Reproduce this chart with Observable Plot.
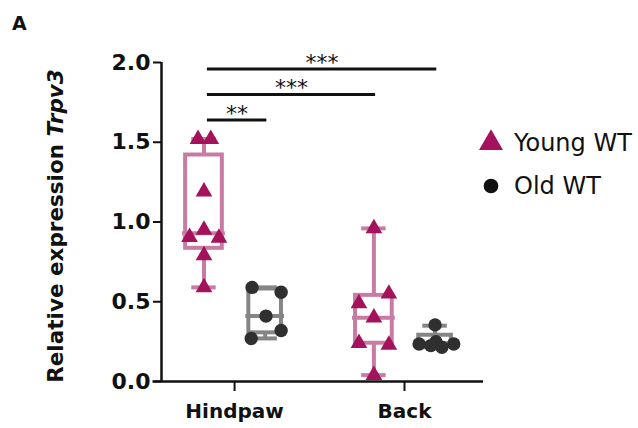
<!DOCTYPE html>
<html><head><meta charset="utf-8">
<script src="https://cdn.jsdelivr.net/npm/d3@7"></script>
<script src="https://cdn.jsdelivr.net/npm/@observablehq/plot@0.6"></script>
<style>body{margin:0;background:#fff} #chart{width:638px;height:428px}</style>
</head><body><div id="chart"></div>
<script>
const categories = ["Hindpaw", "Back"];
const series = ["Young WT", "Old WT"];
const yTicks = [0, 0.5, 1.0, 1.5, 2.0];

// individual values and their horizontal jitter (category units)
const hindpawYoung = [1.52, 1.52, 1.19, 0.95, 0.905, 0.90, 0.79, 0.59];
const hindpawYoungJitter = [-0.035, 0.04, 0, 0, -0.085, 0.088, 0, 0];
const hindpawOld = [0.59, 0.56, 0.41, 0.32, 0.27];
const hindpawOldJitter = [-0.077, 0.094, 0.005, 0.094, -0.082];
const backYoung = [0.96, 0.55, 0.49, 0.40, 0.24, 0.23, 0.04];
const backYoungJitter = [0, 0.088, -0.088, 0, -0.088, 0.088, 0];
const backOld = [0.355, 0.25, 0.235, 0.225, 0.215, 0.235];
const backOldJitter = [0, 0.005, -0.094, -0.025, 0.04, 0.11];

// box statistics: [min, q1, median, q3, max]
const hindpawYoungBox = [0.59, 0.835, 0.93, 1.42, 1.52];
const hindpawOldBox = [0.27, 0.305, 0.41, 0.58, 0.59];
const backYoungBox = [0.04, 0.24, 0.40, 0.54, 0.96];
const backOldBox = [0.215, 0.22, 0.24, 0.29, 0.35];

// significance comparisons
const sigFrom = [["Hindpaw", "Young WT"], ["Hindpaw", "Young WT"], ["Hindpaw", "Young WT"]];
const sigTo = [["Hindpaw", "Old WT"], ["Back", "Young WT"], ["Back", "Old WT"]];
const sigLevel = [1.64, 1.80, 1.96];
const sigLabel = ["**", "***", "***"];

const colors = {
  "Young WT": {point: "#a3125b", box: "#c97ca3", symbol: "triangle", r: 6.2},
  "Old WT": {point: "#2f2f2f", box: "#858585", symbol: "circle", r: 6.7}
};
const offset = {"Young WT": -0.18, "Old WT": 0.18};
const boxHalf = {"Young WT": 0.108, "Old WT": 0.096};
const capHalf = 0.072;
const xpos = (cat, s) => categories.indexOf(cat) + 1 + offset[s];

const groups = [
  {cat: "Hindpaw", s: "Young WT", vals: hindpawYoung, jit: hindpawYoungJitter, box: hindpawYoungBox},
  {cat: "Hindpaw", s: "Old WT", vals: hindpawOld, jit: hindpawOldJitter, box: hindpawOldBox},
  {cat: "Back", s: "Young WT", vals: backYoung, jit: backYoungJitter, box: backYoungBox},
  {cat: "Back", s: "Old WT", vals: backOld, jit: backOldJitter, box: backOldBox}
];
const boxes = groups.map(g => {
  const x = xpos(g.cat, g.s);
  const [min, q1, median, q3, max] = g.box;
  return {x, s: g.s, min, q1, median, q3, max, hw: boxHalf[g.s]};
});
const points = groups.flatMap(g => g.vals.map((v, i) => ({x: xpos(g.cat, g.s) + g.jit[i], y: v, s: g.s})));
const sigs = sigFrom.map((f, i) => ({x1: xpos(...f) + 0.02, x2: xpos(...sigTo[i]) + 0.01, y: sigLevel[i], label: sigLabel[i]}));

const xDomain = [0.57, 2.465];
const F = "DejaVu Sans";
const boxStroke = d => colors[d.s].box;

const plot = Plot.plot({
  width: 638, height: 428,
  marginLeft: 161, marginRight: 155, marginTop: 62, marginBottom: 47,
  style: {fontFamily: F, background: "white", color: "#111"},
  x: {domain: xDomain, axis: null},
  y: {domain: [0, 2], axis: null},
  marks: [
    Plot.axisY({ticks: yTicks, tickSize: 8, tickPadding: 3, strokeWidth: 2, fontSize: 22, fontWeight: "bold", tickFormat: d3.format(".1f"), label: null}),
    Plot.axisX({ticks: [1, 2], tickSize: 10, tickPadding: 12, strokeWidth: 2, fontSize: 20, fontWeight: "bold", tickFormat: d => categories[d - 1], label: null}),
    Plot.ruleX([xDomain[0]], {strokeWidth: 2.5, y1: 0, y2: 2}),
    Plot.ruleY([0], {strokeWidth: 2.5, x1: xDomain[0] - 0.05, x2: xDomain[1]}),
    // whiskers and caps
    Plot.ruleX(boxes, {x: "x", y1: "min", y2: "q1", stroke: boxStroke, strokeWidth: 4}),
    Plot.ruleX(boxes, {x: "x", y1: "q3", y2: "max", stroke: boxStroke, strokeWidth: 4}),
    Plot.ruleY(boxes, {y: "min", x1: d => d.x - capHalf, x2: d => d.x + capHalf, stroke: boxStroke, strokeWidth: 4}),
    Plot.ruleY(boxes, {y: "max", x1: d => d.x - capHalf, x2: d => d.x + capHalf, stroke: boxStroke, strokeWidth: 4}),
    // boxes and medians
    Plot.rect(boxes, {x1: d => d.x - d.hw, x2: d => d.x + d.hw, y1: "q1", y2: "q3", fill: "white", stroke: boxStroke, strokeWidth: 4}),
    Plot.ruleY(boxes, {y: "median", x1: d => d.x - d.hw - 0.018, x2: d => d.x + d.hw + 0.018, stroke: boxStroke, strokeWidth: 4}),
    // points, one mark per series
    ...series.map(s => Plot.dot(points.filter(p => p.s === s), {x: "x", y: "y", symbol: colors[s].symbol, fill: colors[s].point, r: colors[s].r, stroke: "none"})),
    // significance
    Plot.ruleY(sigs, {y: "y", x1: "x1", x2: "x2", strokeWidth: 3, stroke: "#111"}),
    Plot.text(sigs, {x: d => (d.x1 + d.x2) / 2, y: "y", text: "label", fontSize: 22, lineAnchor: "bottom", dy: 1, fill: "#111"})
  ]
});

const svg = d3.select(plot);
svg.append("text").attr("x", 12).attr("y", 30).attr("text-anchor", "start").attr("font-family", F).attr("font-weight", "bold").attr("font-size", 19).attr("fill", "#111").text("A");
const yl = svg.append("text").attr("transform", "translate(63,226) rotate(-90)").attr("text-anchor", "middle")
  .attr("font-family", F).attr("font-weight", "bold").attr("font-size", 21.5).attr("fill", "#111");
yl.append("tspan").text("Relative expression ");
yl.append("tspan").attr("font-style", "italic").text("Trpv3");

const leg = svg.append("g");
const legY = [143, 186];
series.forEach((s, i) => {
  const c = colors[s];
  const sym = s === "Young WT" ? d3.symbolTriangle : d3.symbolCircle;
  const size = s === "Young WT" ? 250 : 170;
  leg.append("path").attr("d", d3.symbol(sym, size)()).attr("transform", `translate(491,${legY[i]})`).attr("fill", s === "Young WT" ? c.point : "#111");
  leg.append("text").attr("x", 514).attr("y", legY[i] + 8).attr("text-anchor", "start").attr("font-family", F).attr("font-size", 24).attr("fill", "#111").text(s);
});

document.getElementById("chart").appendChild(plot);
</script></body></html>
